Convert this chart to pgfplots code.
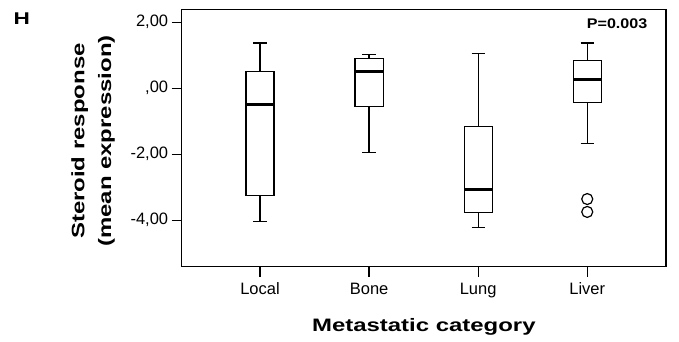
\documentclass[border=0pt]{standalone}
\usepackage{fontspec}
\setmainfont{Liberation Sans}
\newfontfamily\widefont[FakeStretch=1.33]{Liberation Sans}
\newfontfamily\pfont[FakeStretch=1.15]{Liberation Sans}
\usepackage{pgfplots}
\pgfplotsset{compat=1.18}
\usepgfplotslibrary{statistics}
\begin{document}
\begin{tikzpicture}
\path[use as bounding box] (-181.7pt,-75.3pt) rectangle (497.3pt,266.7pt);
\begin{axis}[
  at={(0pt,0pt)}, anchor=south west,
  scale only axis, width=484.3pt, height=257.4pt,
  xmin=-0.718, xmax=3.722, ymin=-5.41, ymax=2.39,
  xtick={0,1,2,3}, xticklabels={Local,Bone,Lung,Liver},
  ytick={-4,-2,0,2}, yticklabels={{-4,00},{-2,00},{,00},{2,00}},
  tick align=outside, xtick pos=bottom, ytick pos=left,
  major tick length=10pt,
  axis line style={line width=1.3pt},
  every tick/.style={line width=1.3pt, black},
  tick label style={font=\fontsize{16.5}{19}\selectfont},
  xticklabel style={yshift=-2.5pt},
  clip=false,
  xlabel={Metastatic category},
  ylabel={Steroid response\\(mean expression)},
  xlabel style={at={(axis description cs:0.5,-0.234)}, anchor=center,
    font=\widefont\bfseries\fontsize{18}{22}\selectfont},
  ylabel style={at={(axis description cs:-0.183,0.488)}, anchor=center, align=center,
    font=\widefont\bfseries\fontsize{18}{26.7}\selectfont},
  boxplot/draw direction=y,
  boxplot/every median/.style={line width=3pt},
]
\addplot[black, line width=1.2pt, fill=white, solid, boxplot prepared={draw position=0,
  lower whisker=-4.05, lower quartile=-3.26, median=-0.485,
  upper quartile=0.51, upper whisker=1.37, box extend=0.257, whisker extend=0.122}]
  coordinates {};
\addplot[black, line width=1.2pt, fill=white, solid, boxplot prepared={draw position=1,
  lower whisker=-1.96, lower quartile=-0.545, median=0.515,
  upper quartile=0.90, upper whisker=1.03, box extend=0.257, whisker extend=0.122}]
  coordinates {};
\addplot[black, line width=1.2pt, fill=white, solid, boxplot prepared={draw position=2,
  lower whisker=-4.22, lower quartile=-3.77, median=-3.07,
  upper quartile=-1.15, upper whisker=1.05, box extend=0.257, whisker extend=0.122}]
  coordinates {};
\addplot[black, line width=1.2pt, fill=white, solid, boxplot prepared={draw position=3,
  lower whisker=-1.68, lower quartile=-0.435, median=0.27,
  upper quartile=0.84, upper whisker=1.37, box extend=0.257, whisker extend=0.122}]
  coordinates {};
\addplot[only marks, mark=o, mark size=5.5pt, line width=1.2pt, black]
  coordinates {(3,-3.36) (3,-3.75)};
\node[font=\widefont\bfseries\fontsize{17}{20}\selectfont] at (rel axis cs:-0.330,0.963) {H};
\node[font=\pfont\bfseries\fontsize{14}{17}\selectfont] at (rel axis cs:0.899,0.943) {P=0.003};
\end{axis}
\end{tikzpicture}
\end{document}
